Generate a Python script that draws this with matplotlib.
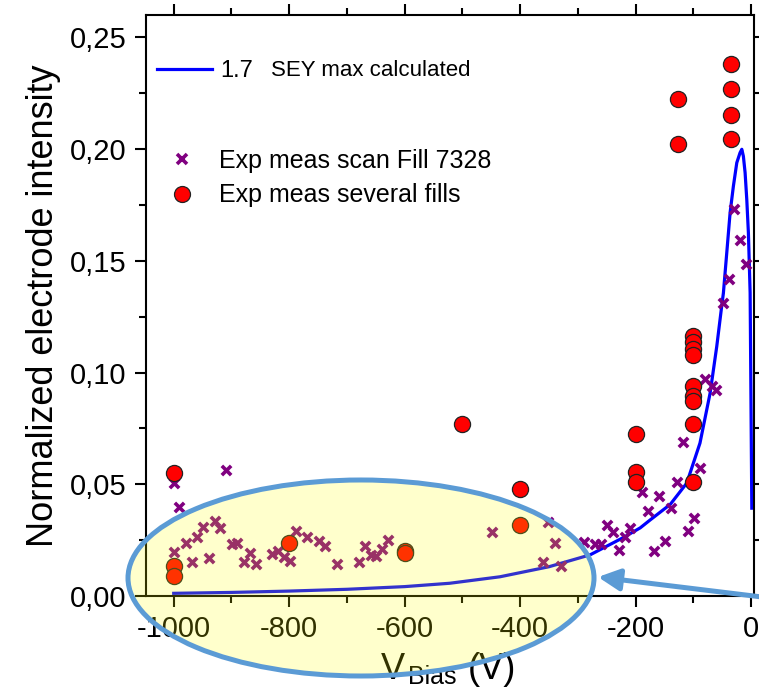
#!/usr/bin/env python3
"""
Normalized electrode intensity vs. bias voltage: calculated curve and measurements.
"""

import matplotlib
matplotlib.use("Agg")
import matplotlib.pyplot as plt
from matplotlib.lines import Line2D
from matplotlib.patches import Ellipse, FancyArrowPatch

plt.rcParams['font.family'] = ['Liberation Sans', 'DejaVu Sans']

# Calculated curve (SEY max 1.7)
calc_v = [-1000, -900, -800, -700, -600, -522, -435, -350, -279, -221, -192, -175,
          -140, -111.5, -88.6, -71, -59.5, -51, -48, -42.2, -36.4, -30.7, -24.8,
          -19.1, -16.1, -13.4, -10.4, -7.5, -4.7, -1.7, 1.2]
calc_y = [0.0012, 0.0016, 0.0022, 0.0030, 0.0042, 0.0057, 0.0086, 0.0131, 0.0184,
          0.0262, 0.0305, 0.0340, 0.0410, 0.0505, 0.0684, 0.0908, 0.1117, 0.1296,
          0.1356, 0.1535, 0.1715, 0.1834, 0.1939, 0.1984, 0.1999, 0.1968, 0.1894,
          0.1774, 0.1625, 0.1357, 0.0393]

# Exp meas scan Fill 7328
scan_v = [-1000, -990, -909, -999, -979, -969, -959, -949, -939, -929, -919, -899,
          -890, -879, -868, -858, -830, -819, -809, -799, -789, -769, -749, -738,
          -718, -679, -669, -659, -649, -639, -629, -449, -352, -340, -360, -330,
          -289, -270, -260, -249, -239, -229, -218, -210, -188.5, -179, -169, -159,
          -149, -139, -129, -118, -109, -99, -88, -79, -67, -60, -49, -39, -29.5,
          -19, -9]
scan_y = [0.0505, 0.0397, 0.0565, 0.0196, 0.0239, 0.0151, 0.0263, 0.0311, 0.0172,
          0.0337, 0.0303, 0.0233, 0.0239, 0.0154, 0.0194, 0.0142, 0.0187, 0.0202,
          0.0176, 0.0157, 0.0291, 0.0266, 0.0246, 0.0224, 0.0142, 0.0154, 0.0225,
          0.0184, 0.0179, 0.0211, 0.0251, 0.0285, 0.0333, 0.0239, 0.0154, 0.0134,
          0.0243, 0.0233, 0.0233, 0.0318, 0.0285, 0.0206, 0.0266, 0.0303, 0.0466,
          0.0381, 0.0202, 0.0449, 0.0248, 0.0393, 0.0509, 0.0691, 0.0293, 0.0348,
          0.0575, 0.0971, 0.0938, 0.0923, 0.1310, 0.1420, 0.1733, 0.1595, 0.1487]

# Exp meas several fills
fills_v = [-1000, -1000, -1000, -800, -600, -600, -500, -400, -400, -200, -200, -200,
           -126, -126, -100, -100, -100, -100, -100, -100, -100, -100, -100,
           -34, -34, -34, -34]
fills_y = [0.0550, 0.0136, 0.0091, 0.0239, 0.0203, 0.0191, 0.0769, 0.0478, 0.0318,
           0.0724, 0.0554, 0.0512, 0.2222, 0.2021, 0.1162, 0.1135, 0.1107, 0.1077,
           0.0938, 0.0896, 0.0871, 0.0769, 0.0512, 0.2379, 0.2271, 0.2151, 0.2043]

xticks = [-1000, -800, -600, -400, -200, 0]
xtick_labels = ['-1000', '-800', '-600', '-400', '-200', '0']
yticks = [0.0, 0.05, 0.10, 0.15, 0.20, 0.25]
ytick_labels = ['0,00', '0,05', '0,10', '0,15', '0,20', '0,25']

W, H = 759, 688
fig = plt.figure(figsize=(W / 100, H / 100), dpi=100)
ax = fig.add_axes([146 / W, 1 - 596 / H, (754 - 146) / W, (596 - 15) / H])


def fx(px):
    return px / W


def fy(py):
    return 1 - py / H


blue = '#0000FF'
purple = '#800080'

ax.plot(calc_v, calc_y, color=blue, lw=2.3, zorder=2)
ax.scatter(scan_v, scan_y, marker='x', s=45, color=purple, linewidths=2.6, zorder=3)
ax.scatter(fills_v, fills_y, marker='o', s=135, facecolor='#FF0000',
           edgecolor='#222222', linewidths=0.9, zorder=4)

ax.set_xlim(-1048, 5)
ax.set_ylim(0, 0.26)
ax.set_xticks(xticks)
ax.set_xticklabels(xtick_labels)
ax.set_yticks(yticks)
ax.set_yticklabels(ytick_labels)
ax.set_xticks([-900, -700, -500, -300, -100], minor=True)
ax.set_yticks([0.025, 0.075, 0.125, 0.175, 0.225], minor=True)

for s in ax.spines.values():
    s.set_linewidth(1.5)
ax.tick_params(which='both', direction='out', top=True, right=True, width=1.5,
               labelsize=21)
ax.tick_params(which='major', length=8, pad=6)
ax.tick_params(which='minor', length=5)

ax.set_ylabel('Normalized electrode intensity', fontsize=26, labelpad=6)

# x label: V_Bias (V)
fig.text(fx(381), fy(679), 'V', fontsize=26, va='baseline', ha='left')
fig.text(fx(408), fy(684), 'Bias', fontsize=18, va='baseline', ha='left')
fig.text(fx(468), fy(679), '(V)', fontsize=26, va='baseline', ha='left')

# legends
leg1 = ax.legend([Line2D([], [], color=blue, lw=2.3)], ['1.7'], loc='center left',
                 bbox_to_anchor=(fx(157), fy(71)), bbox_transform=fig.transFigure,
                 frameon=False, fontsize=17, handlelength=2.35, handletextpad=0.35,
                 borderpad=0, borderaxespad=0)
ax.add_artist(leg1)
ax.text(fx(271), fy(71), 'SEY max calculated', transform=fig.transFigure,
        fontsize=16, va='center', ha='left')

h_scan = Line2D([], [], ls='', marker='x', color=purple, markersize=6.5, mew=2.6)
h_fill = Line2D([], [], ls='', marker='o', markerfacecolor='#FF0000',
                markeredgecolor='#222222', markersize=11.5, mew=0.9)
ax.legend([h_scan, h_fill], ['Exp meas scan Fill 7328', 'Exp meas several fills'],
          loc='center left', bbox_to_anchor=(fx(163), fy(178)),
          bbox_transform=fig.transFigure, frameon=False, fontsize=18,
          handlelength=1.5, handletextpad=0.75, labelspacing=0.42,
          borderpad=0, borderaxespad=0)

# highlight ellipse and arrow
ell = Ellipse((fx(361), fy(578)), width=466 / W, height=196 / H,
              transform=fig.transFigure, facecolor=(1, 1, 0, 0.2),
              edgecolor='#5B9BD5', lw=3.6, zorder=10)
fig.patches.append(ell)
arr = FancyArrowPatch((fx(762), fy(597)), (fx(598), fy(577)),
                      transform=fig.transFigure, arrowstyle='-|>,head_length=13,head_width=6.5',
                      color='#5B9BD5', lw=3.6, shrinkA=0, shrinkB=0, zorder=10)
fig.patches.append(arr)

fig.savefig('out.png', dpi=100)
